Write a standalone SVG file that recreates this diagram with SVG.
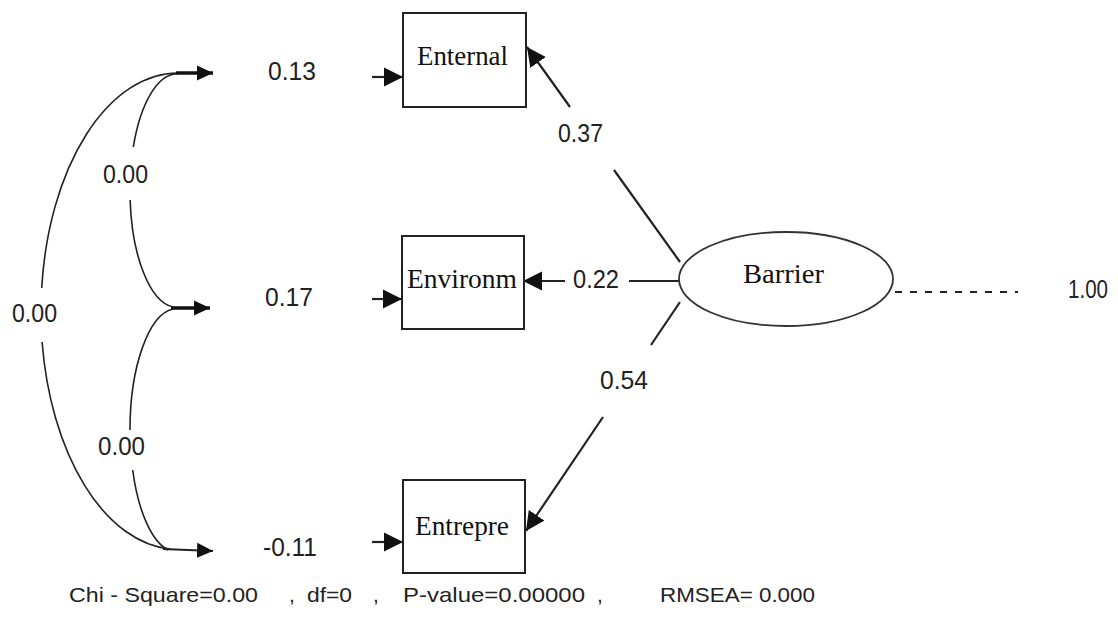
<svg xmlns="http://www.w3.org/2000/svg" width="1118" height="617" viewBox="0 0 1118 617">
<defs>
<style>
.box{fill:#fff;stroke:#222;stroke-width:2}
.lbl{font-family:"Liberation Serif","Times New Roman",serif;font-size:27px;fill:#111}
.num{font-family:"Liberation Sans",Arial,sans-serif;font-size:26px;fill:#222}
.foot{font-family:"Liberation Sans",Arial,sans-serif;font-size:21px;fill:#222}
.ln{fill:none;stroke:#222;stroke-width:2.2}
.thin{fill:none;stroke:#222;stroke-width:1.6}
.thick{fill:none;stroke:#111;stroke-width:3.5}
</style>
<marker id="ah" markerUnits="userSpaceOnUse" markerWidth="22" markerHeight="22" viewBox="0 0 22 22" refX="19" refY="11" orient="auto">
<path d="M0,1.5 L19,11 L0,20.5 Z" fill="#111"/>
</marker>
<marker id="ahs" markerUnits="userSpaceOnUse" markerWidth="18" markerHeight="18" viewBox="0 0 18 18" refX="16" refY="9" orient="auto">
<path d="M0,1.5 L16,9 L0,16.5 Z" fill="#111"/>
</marker>
</defs>
<rect width="1118" height="617" fill="#fff"/>

<g id="connectors">
<path class="thin" d="M178,73 A137,239 0 0 0 41.7,288"/>
<path class="thin" d="M42.1,342 A137,239 0 0 0 170,549"/>
<path class="thin" d="M177,74 A47,117 0 0 0 133.3,147"/>
<path class="thin" d="M130.1,200 A47,117 0 0 0 173,307"/>
<path class="thin" d="M173,309 A47,121 0 0 0 130,430"/>
<path class="thin" d="M132.7,470 A47,121 0 0 0 168,550"/>
<line class="thick" x1="176" y1="73" x2="213" y2="73" marker-end="url(#ahs)"/>
<line class="thick" x1="171" y1="308" x2="210" y2="308" marker-end="url(#ahs)"/>
<line class="ln" x1="163" y1="549" x2="213" y2="551" marker-end="url(#ahs)"/>
<line class="ln" x1="372" y1="77" x2="403" y2="77" marker-end="url(#ah)"/>
<line class="ln" x1="372" y1="299" x2="402" y2="299" marker-end="url(#ah)"/>
<line class="ln" x1="372" y1="542" x2="403" y2="542" marker-end="url(#ah)"/>
<line class="ln" x1="680" y1="262" x2="614" y2="170"/>
<line class="ln" x1="570" y1="107" x2="527" y2="47" marker-end="url(#ah)"/>
<line class="ln" x1="680" y1="281" x2="629" y2="281"/>
<line class="ln" x1="565" y1="281" x2="523" y2="281" marker-end="url(#ah)"/>
<line class="ln" x1="680" y1="302" x2="651" y2="345"/>
<line class="ln" x1="603" y1="417" x2="526" y2="531" marker-end="url(#ah)"/>
<line x1="895" y1="292" x2="1018" y2="292" stroke="#222" stroke-width="1.8" stroke-dasharray="7,8"/>
</g>

<g id="labels">
<text class="num" x="268" y="80" textLength="48" lengthAdjust="spacingAndGlyphs">0.13</text>
<text class="num" x="265" y="306" textLength="48" lengthAdjust="spacingAndGlyphs">0.17</text>
<text class="num" x="263" y="556" textLength="54" lengthAdjust="spacingAndGlyphs">-0.11</text>
<text class="num" x="103" y="183" textLength="45" lengthAdjust="spacingAndGlyphs">0.00</text>
<text class="num" x="12" y="322" textLength="45" lengthAdjust="spacingAndGlyphs">0.00</text>
<text class="num" x="98" y="455" textLength="47" lengthAdjust="spacingAndGlyphs">0.00</text>
<text class="num" x="558" y="142" textLength="45" lengthAdjust="spacingAndGlyphs">0.37</text>
<text class="num" x="573" y="288" textLength="46" lengthAdjust="spacingAndGlyphs">0.22</text>
<text class="num" x="600" y="389" textLength="48" lengthAdjust="spacingAndGlyphs">0.54</text>
<text class="num" x="1068" y="298" textLength="40" lengthAdjust="spacingAndGlyphs">1.00</text>
</g>

<g id="Enternal">
<rect class="box" x="403" y="13" width="123" height="94"/>
<text class="lbl" x="417" y="65" textLength="91" lengthAdjust="spacingAndGlyphs">Enternal</text>
</g>
<g id="Environm">
<rect class="box" x="402" y="236" width="122" height="93"/>
<text class="lbl" x="407" y="288" textLength="110" lengthAdjust="spacingAndGlyphs">Environm</text>
</g>
<g id="Entrepre">
<rect class="box" x="403" y="480" width="122" height="93"/>
<text class="lbl" x="415" y="535" textLength="94" lengthAdjust="spacingAndGlyphs">Entrepre</text>
</g>
<g id="Barrier">
<ellipse cx="786" cy="279" rx="107" ry="47" fill="#fff" stroke="#333" stroke-width="1.8"/>
<text class="lbl" x="743" y="283" textLength="81" lengthAdjust="spacingAndGlyphs">Barrier</text>
</g>

<g id="footer">
<text class="foot" x="69" y="602" textLength="189" lengthAdjust="spacingAndGlyphs">Chi - Square=0.00</text>
<text class="foot" x="289" y="602">,</text>
<text class="foot" x="307" y="602" textLength="45" lengthAdjust="spacingAndGlyphs">df=0</text>
<text class="foot" x="373" y="602">,</text>
<text class="foot" x="403" y="602" textLength="182" lengthAdjust="spacingAndGlyphs">P-value=0.00000</text>
<text class="foot" x="597" y="602">,</text>
<text class="foot" x="660" y="602" textLength="155" lengthAdjust="spacingAndGlyphs">RMSEA= 0.000</text>
</g>
</svg>
